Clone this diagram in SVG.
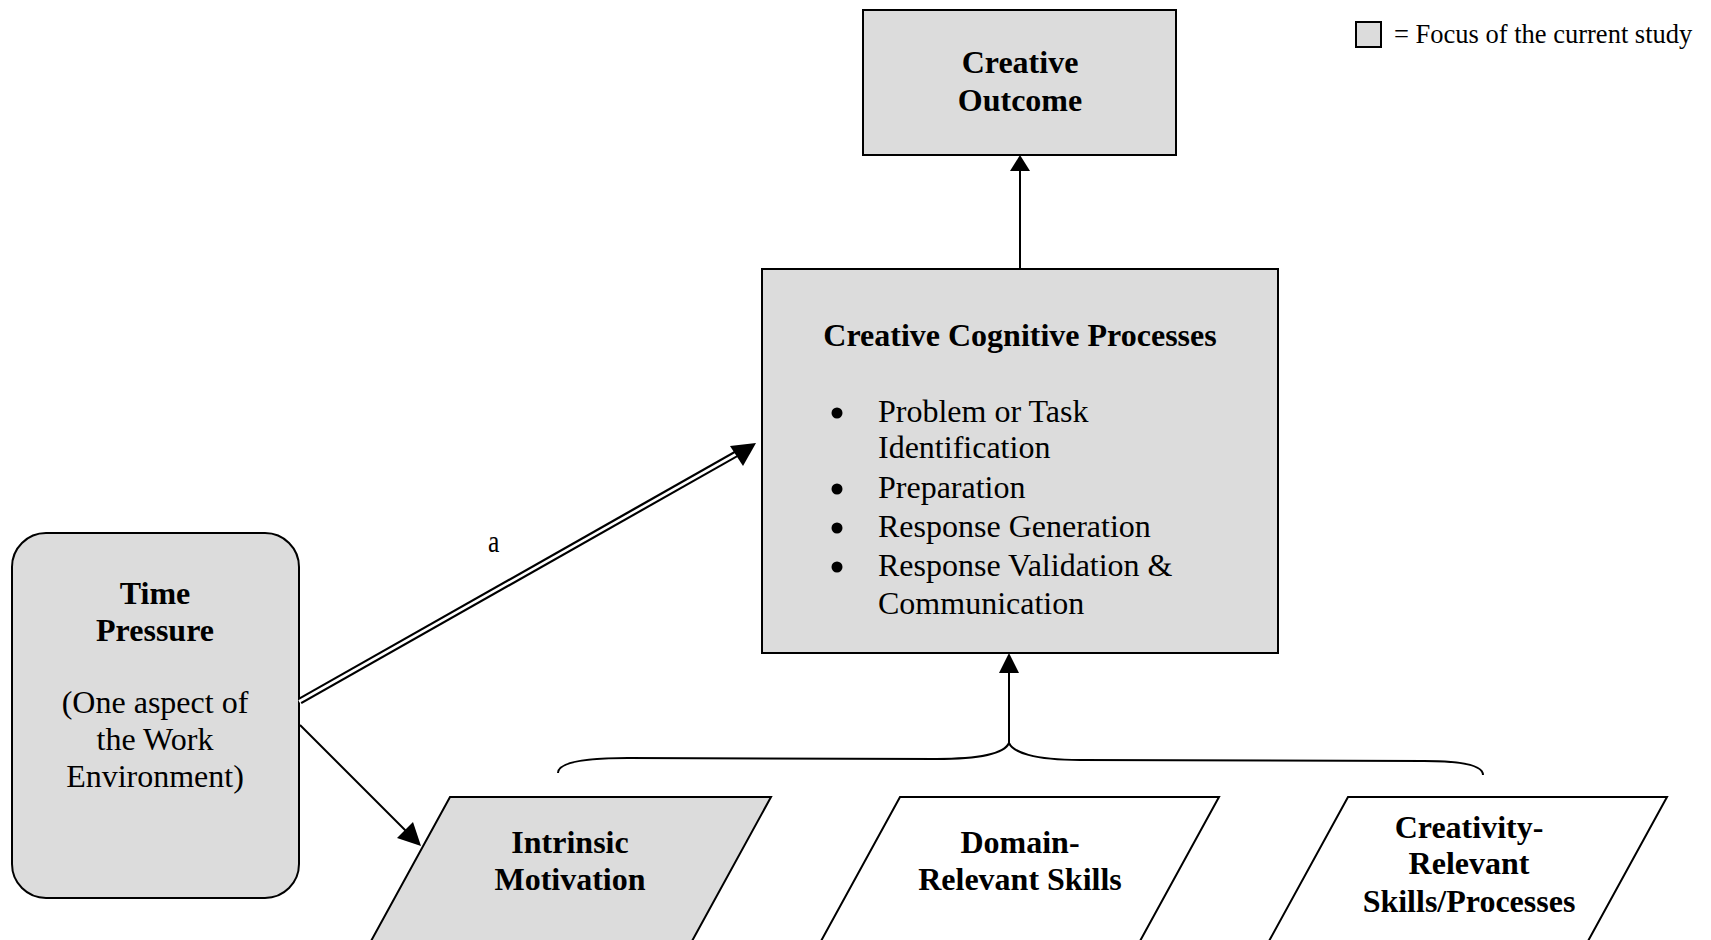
<svg xmlns="http://www.w3.org/2000/svg" width="1711" height="940" viewBox="0 0 1711 940">
<style>
.box{fill:#dcdcdc;stroke:#000;stroke-width:2}
.open{fill:#fff;stroke:#000;stroke-width:2}
.b{font-family:"Liberation Serif","Times New Roman",serif;font-weight:bold;font-size:32px;fill:#000;text-anchor:middle}
.r{font-family:"Liberation Serif","Times New Roman",serif;font-size:32px;fill:#000;text-anchor:middle}
.li{font-family:"Liberation Serif","Times New Roman",serif;font-size:32px;fill:#000}
.ln{fill:none;stroke:#000;stroke-width:2}
.head{fill:#000;stroke:none}
</style>
<rect width="1711" height="940" fill="#fff"/>

<g id="legend">
<rect x="1356" y="22" width="25" height="25" class="box"/>
<text x="1394" y="43" font-family="'Liberation Serif','Times New Roman',serif" font-size="26.5" fill="#000">= Focus of the current study</text>
</g>

<g id="creative-outcome">
<rect x="863" y="10" width="313" height="145" class="box"/>
<text x="1020" y="73" class="b">Creative</text>
<text x="1020" y="111" class="b">Outcome</text>
</g>

<g id="creative-cognitive-processes">
<rect x="762" y="269" width="516" height="384" class="box"/>
<text x="1020" y="346" class="b">Creative Cognitive Processes</text>
<circle cx="837" cy="413" r="5.5" fill="#000"/>
<circle cx="837" cy="489" r="5.5" fill="#000"/>
<circle cx="837" cy="528" r="5.5" fill="#000"/>
<circle cx="837" cy="567" r="5.5" fill="#000"/>
<text x="878" y="422" class="li">Problem or Task</text>
<text x="878" y="458" class="li">Identification</text>
<text x="878" y="498" class="li">Preparation</text>
<text x="878" y="537" class="li">Response Generation</text>
<text x="878" y="576" class="li">Response Validation &amp;</text>
<text x="878" y="614" class="li">Communication</text>
</g>

<g id="time-pressure">
<rect x="12" y="533" width="287" height="365" rx="34" ry="34" class="box"/>
<text x="155" y="604" class="b">Time</text>
<text x="155" y="641" class="b">Pressure</text>
<text x="155" y="713" class="r">(One aspect of</text>
<text x="155" y="750" class="r">the Work</text>
<text x="155" y="787" class="r">Environment)</text>
</g>

<g id="intrinsic-motivation">
<polygon points="450,797 771,797 686,952 365,952" class="box"/>
<text x="570" y="853" class="b">Intrinsic</text>
<text x="570" y="890" class="b">Motivation</text>
</g>

<g id="domain-relevant-skills">
<polygon points="900,797 1219,797 1134,952 815,952" class="open"/>
<text x="1020" y="853" class="b">Domain-</text>
<text x="1020" y="890" class="b">Relevant Skills</text>
</g>

<g id="creativity-relevant-skills">
<polygon points="1348,797 1667,797 1582,952 1263,952" class="open"/>
<text x="1469" y="838" class="b">Creativity-</text>
<text x="1469" y="874" class="b">Relevant</text>
<text x="1469" y="912" class="b">Skills/Processes</text>
</g>

<g id="connectors">
<line x1="1020" y1="269" x2="1020" y2="168" class="ln"/>
<polygon points="1020,155 1030,171 1010,171" class="head"/>
<path d="M558,773 C558,762 585,758 628,758 L936,759 C985,759 1005,752 1009,743 C1013,752 1033,760 1080,760 L1424,761 C1466,761 1483,766 1483,775" class="ln"/>
<line x1="1009" y1="743" x2="1009" y2="670" class="ln"/>
<polygon points="1009,653 1019,673 999,673" class="head"/>
<line x1="300" y1="701" x2="736" y2="454" stroke="#000" stroke-width="7"/>
<line x1="299" y1="701.5" x2="738" y2="453" stroke="#fff" stroke-width="2.6"/>
<polygon points="756,443 730,446 743,466" class="head"/>
<text x="488" y="552" font-family="'Liberation Serif','Times New Roman',serif" font-size="32" fill="#000" transform="translate(488 552) scale(0.8 1) translate(-488 -552)">a</text>
<line x1="300" y1="725" x2="408" y2="833" class="ln"/>
<polygon points="421,846 397,838 413,822" class="head"/>
</g>
</svg>
